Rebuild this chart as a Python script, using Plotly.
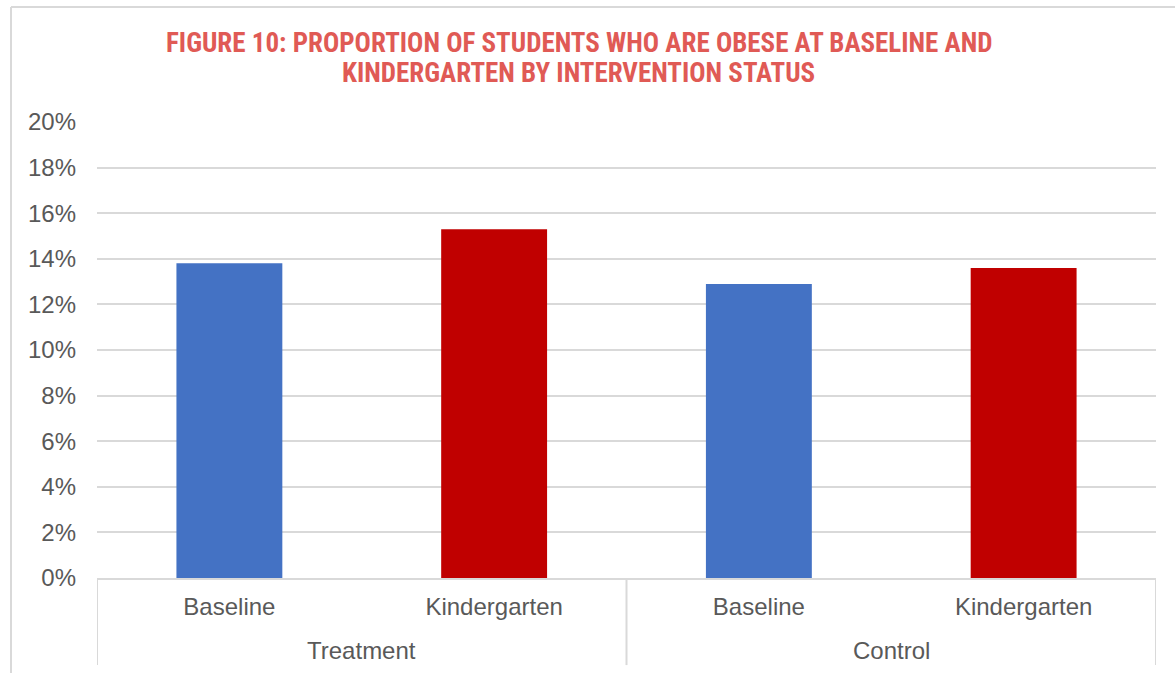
import plotly.graph_objects as go

# Obesity share by intervention group and time point
groups = ["Treatment", "Treatment", "Control", "Control"]
periods = ["Baseline", "Kindergarten", "Baseline", "Kindergarten"]
obese_share = [0.138, 0.153, 0.129, 0.136]
period_colors = {"Baseline": "#4472C4", "Kindergarten": "#C00000"}

y_ticks = [i / 100 for i in range(0, 21, 2)]
y_tick_text = [f"{i}%" for i in range(0, 21, 2)]

title_lines = ["FIGURE 10: PROPORTION OF STUDENTS WHO ARE OBESE AT BASELINE AND",
               "KINDERGARTEN BY INTERVENTION STATUS"]

GRID = "#D9D9D9"
TEXT = "#595959"
TITLE_FONT = dict(family="Liberation Sans Narrow, Roboto Condensed, Arial Narrow, sans-serif",
                  size=27, color="#E05A55", weight="bold")

# one slot per bar along the category axis
slots = list(range(len(periods)))

fig = go.Figure(
    go.Bar(
        x=slots,
        y=obese_share,
        width=0.4,
        marker=dict(color=[period_colors[p] for p in periods], line=dict(width=0)),
        customdata=[[g, p] for g, p in zip(groups, periods)],
        hovertemplate="%{customdata[0]} – %{customdata[1]}: %{y:.1%}<extra></extra>",
    )
)

fig.update_layout(
    width=1175,
    height=673,
    margin=dict(l=97, r=19, t=122, b=95),
    paper_bgcolor="white",
    plot_bgcolor="white",
    showlegend=False,
    font=dict(family="Liberation Sans, Arial, sans-serif", size=24, color=TEXT),
)

fig.update_yaxes(
    range=[0, 0.2],
    tickvals=y_ticks,
    ticktext=y_tick_text,
    showgrid=True,
    gridcolor=GRID,
    gridwidth=1.5,
    zeroline=False,
    showline=False,
    ticks="",
    ticklabelstandoff=20,
    fixedrange=True,
)

fig.update_xaxes(
    range=[-0.5, len(periods) - 0.5],
    tickvals=slots,
    ticktext=periods,
    showline=True,
    linecolor=GRID,
    linewidth=2,
    showgrid=False,
    zeroline=False,
    ticks="",
    ticklabelstandoff=6,
    fixedrange=True,
)

# Second-level group labels and the dividers between groups
group_names = list(dict.fromkeys(groups))
edges = [-0.5]
for name in group_names:
    idx = [i for i, g in enumerate(groups) if g == name]
    fig.add_annotation(x=(idx[0] + idx[-1]) / 2, y=-0.158, xref="x", yref="paper",
                       text=name, showarrow=False, yanchor="middle",
                       font=dict(size=24, color=TEXT))
    edges.append(idx[-1] + 0.5)
for e in edges:
    fig.add_shape(type="line", xref="x", yref="paper", x0=e, x1=e, y0=0, y1=-0.191,
                  line=dict(color=GRID, width=2))

# Chart title (two centred lines)
for text, ypos in zip(title_lines, [1.173, 1.107]):
    fig.add_annotation(x=0.455, y=ypos, xref="paper", yref="paper", text=text,
                       showarrow=False, xanchor="center", yanchor="middle",
                       font=TITLE_FONT)

# Outer chart frame (left and top edges)
fig.add_shape(type="line", xref="paper", yref="paper",
              x0=-0.0812, x1=-0.0812, y0=-0.3, y1=1.252,
              line=dict(color=GRID, width=2))
fig.add_shape(type="line", xref="paper", yref="paper",
              x0=-0.0812, x1=1.05, y0=1.252, y1=1.252,
              line=dict(color=GRID, width=2))

fig.write_html("out.html")
